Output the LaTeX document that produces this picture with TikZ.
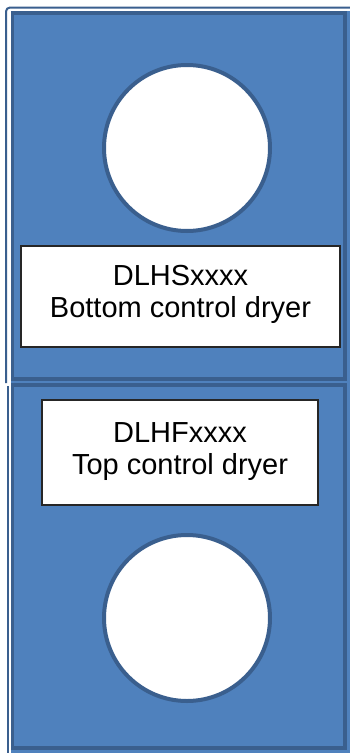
\documentclass[tikz,border=0pt]{standalone}
\usepackage{fontspec}
\setmainfont{Liberation Sans}
\begin{document}
\begin{tikzpicture}[x=1pt,y=-1pt,
  panelfill/.style={fill=panelblue},
  panelborder/.style={draw=borderblue,line width=3.5pt},
  outerline/.style={draw=borderblue,line width=2pt},
  drum/.style={circle,draw=borderblue,fill=white,line width=4pt,minimum size=166pt,inner sep=0pt},
  labelbox/.style={draw=black!85,line width=1.2pt,fill=white,inner sep=0pt},
  labeltext/.style={font=\fontsize{29}{32}\selectfont,anchor=base,inner sep=0pt}]
\definecolor{panelblue}{HTML}{4F81BD}
\definecolor{borderblue}{HTML}{3A5F8E}
\useasboundingbox (0,0) rectangle (350,753);
\fill[white] (0,0) rectangle (350,753);
% blue area
\fill[panelblue] (10.5,11) rectangle (352,755);
% outer lines
\draw[outerline,rounded corners=4pt] (6,383) -- (6,7.5) -- (352,7.5);
\draw[outerline] (8,386) -- (8,755);
% panels
\draw[panelborder] (12.5,13) rectangle (345,379);
\draw[panelborder] (12.5,385) rectangle (345,748);
% drums
\node[drum] (topdrum) at (187,148) {};
\node[drum] (botdrum) at (187,618) {};
% label boxes
\node[labelbox,minimum width=319pt,minimum height=101pt] (topbox) at (180.5,296.5) {};
\node[labeltext] (toptexta) at (180.5,285) {DLHSxxxx};
\node[labeltext] (toptextb) at (180.5,317) {Bottom control dryer};
\node[labelbox,minimum width=276pt,minimum height=105pt] (botbox) at (180,452.5) {};
\node[labeltext] (bottexta) at (180,442) {DLHFxxxx};
\node[labeltext] (bottextb) at (180,474) {Top control dryer};
\end{tikzpicture}
\end{document}
